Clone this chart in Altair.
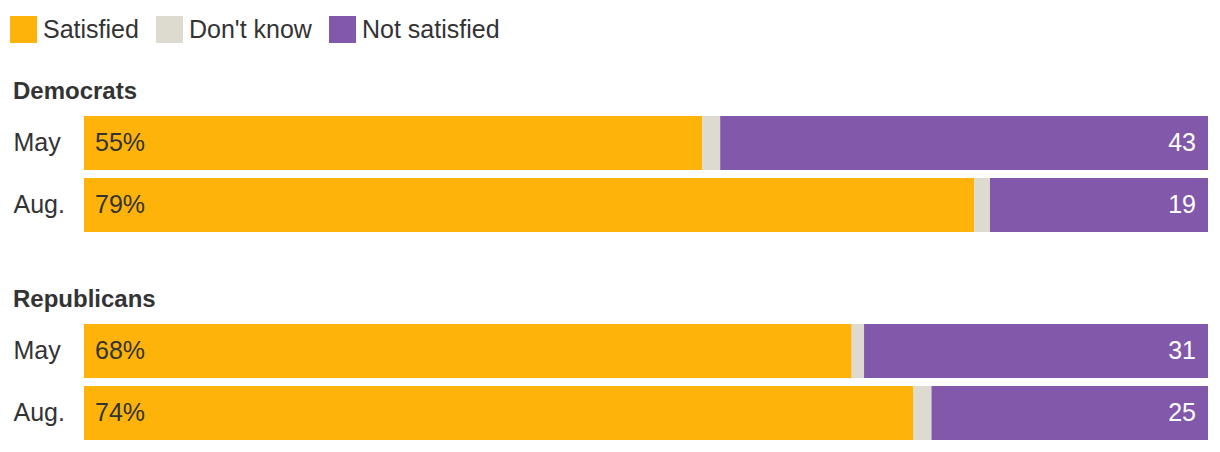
import altair as alt
import pandas as pd

categories = ["Satisfied", "Don't know", "Not satisfied"]
colors = ["#FDB309", "#DDDBD0", "#8258AA"]
parties = ["Democrats", "Democrats", "Republicans", "Republicans"]
months = ["May", "Aug.", "May", "Aug."]
satisfied = [55.0, 79.2, 68.3, 73.8]
dont_know = [1.6, 1.4, 1.1, 1.6]
not_satisfied = [43.4, 19.4, 30.6, 24.6]
sat_labels = ["55%", "79%", "68%", "74%"]
not_labels = ["43", "19", "31", "25"]

FONT = "Liberation Sans"
TEXT = "#333333"

rows = []
for i in range(len(parties)):
    for k, (cat, v) in enumerate(zip(categories, [satisfied[i], dont_know[i], not_satisfied[i]])):
        rows.append({"party": parties[i], "month": months[i], "category": cat,
                     "value": v, "order": k})
bars_df = pd.DataFrame(rows)

lab_df = pd.DataFrame({
    "party": parties,
    "month": months,
    "start": [0] * len(parties),
    "end": [s + d + n for s, d, n in zip(satisfied, dont_know, not_satisfied)],
    "sat_label": sat_labels,
    "not_label": not_labels,
})

month_order = ["May", "Aug."]
xscale = alt.Scale(domain=[0, 100], nice=False, zero=True)


def panel(party):
    y = alt.Y("month:N", sort=month_order,
              scale=alt.Scale(paddingInner=8 / 62, paddingOuter=0),
              axis=alt.Axis(title=None, labelAlign="left", labelPadding=71,
                            ticks=False, tickSize=0, domain=False,
                            labelFontSize=25, labelColor=TEXT, labelFont=FONT))
    bars = alt.Chart(bars_df[bars_df.party == party]).mark_bar().encode(
        x=alt.X("value:Q", stack="zero", scale=xscale, axis=None),
        y=y,
        color=alt.Color("category:N",
                        scale=alt.Scale(domain=categories, range=colors),
                        legend=alt.Legend(title=None, orient="none", direction="horizontal",
                                          legendX=-74, legendY=-100,
                                          symbolType="square", symbolSize=729,
                                          symbolStrokeWidth=0, symbolOpacity=1,
                                          labelFontSize=25, labelFont=FONT,
                                          labelColor=TEXT, labelOffset=6,
                                          columnPadding=17)),
        order=alt.Order("order:Q"),
    )
    sub = lab_df[lab_df.party == party]
    t1 = alt.Chart(sub).mark_text(align="left", baseline="middle", dx=11,
                                  fontSize=25, font=FONT, color=TEXT).encode(
        x=alt.X("start:Q", scale=xscale, axis=None), y=y, text="sat_label:N")
    t2 = alt.Chart(sub).mark_text(align="right", baseline="middle", dx=-12,
                                  fontSize=25, font=FONT, color="white").encode(
        x=alt.X("end:Q", scale=xscale, axis=None), y=y, text="not_label:N")
    return alt.layer(bars, t1, t2).properties(
        width=1124, height=116,
        title=alt.TitleParams(party, anchor="start", frame="bounds", fontSize=24,
                              font=FONT, fontWeight="bold", color=TEXT, offset=12))


chart = alt.vconcat(panel("Democrats"), panel("Republicans"), spacing=56).properties(
    padding={"left": 10, "top": 16, "right": 12, "bottom": 5}
).configure_view(stroke=None)

chart.save("out.html", embed_options={"renderer": "svg", "actions": False})
